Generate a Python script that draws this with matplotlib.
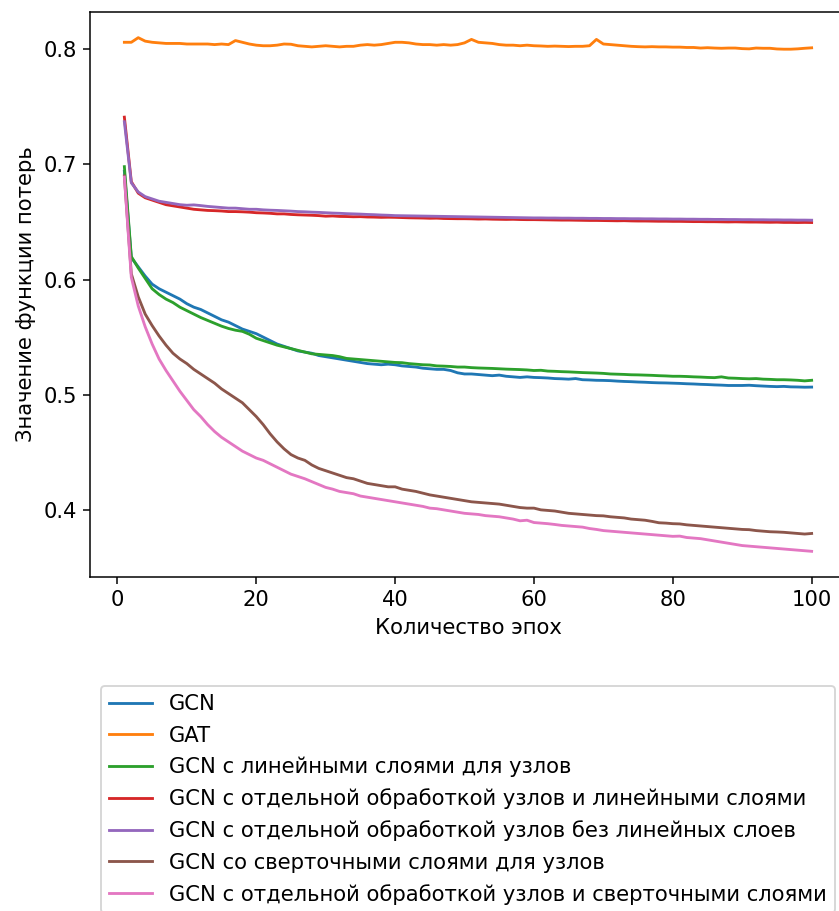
import matplotlib
matplotlib.use('Agg')
import matplotlib.pyplot as plt
import numpy as np

plt.rcParams['font.size'] = 11.2

epochs = list(range(1, 101))

gcn = [0.694, 0.619, 0.611, 0.603, 0.596, 0.592, 0.589, 0.586, 0.583, 0.579,
       0.576, 0.574, 0.571, 0.568, 0.565, 0.563, 0.560, 0.557, 0.555, 0.553,
       0.550, 0.547, 0.544, 0.542, 0.540, 0.538, 0.537, 0.536, 0.534, 0.533,
       0.532, 0.531, 0.530, 0.529, 0.528, 0.527, 0.5265, 0.526, 0.5265, 0.526,
       0.525, 0.5245, 0.524, 0.523, 0.5225, 0.522, 0.522, 0.521, 0.519, 0.518,
       0.518, 0.5175, 0.517, 0.5165, 0.517, 0.516, 0.5155, 0.515, 0.5155, 0.515,
       0.5148, 0.5145, 0.514, 0.5138, 0.5135, 0.514, 0.513, 0.5128, 0.5125, 0.5124,
       0.5122, 0.5118, 0.5115, 0.5113, 0.511, 0.5108, 0.5105, 0.5103, 0.5102, 0.510,
       0.5098, 0.5095, 0.5093, 0.509, 0.5088, 0.5085, 0.5083, 0.508, 0.508, 0.508,
       0.5082, 0.5078, 0.5075, 0.5072, 0.507, 0.5072, 0.5068, 0.5067, 0.5065, 0.5066]

gat = [0.806, 0.806, 0.810, 0.807, 0.806, 0.8055, 0.805, 0.805, 0.805, 0.8045,
       0.8045, 0.8045, 0.8045, 0.804, 0.8045, 0.804, 0.8075, 0.806, 0.8045, 0.8035,
       0.803, 0.803, 0.8035, 0.8045, 0.8043, 0.803, 0.8025, 0.802, 0.8025, 0.803,
       0.8025, 0.802, 0.8025, 0.8025, 0.8035, 0.804, 0.8035, 0.804, 0.805, 0.806,
       0.806, 0.8055, 0.8045, 0.804, 0.804, 0.8035, 0.804, 0.8035, 0.804, 0.8055,
       0.8085, 0.806, 0.8055, 0.805, 0.804, 0.8035, 0.8035, 0.803, 0.8035, 0.803,
       0.8028, 0.8025, 0.8027, 0.8025, 0.8023, 0.8025, 0.8025, 0.803, 0.8085, 0.8045,
       0.804, 0.8035, 0.803, 0.8025, 0.8022, 0.802, 0.8022, 0.802, 0.802, 0.8018,
       0.8018, 0.8015, 0.8015, 0.801, 0.8013, 0.801, 0.8008, 0.801, 0.801, 0.8005,
       0.8003, 0.801, 0.8008, 0.8008, 0.8002, 0.800, 0.800, 0.8003, 0.8008, 0.8012]

gcn_lin = [0.698, 0.620, 0.610, 0.601, 0.592, 0.587, 0.583, 0.580, 0.576, 0.573,
           0.570, 0.567, 0.5645, 0.562, 0.5595, 0.5575, 0.556, 0.555, 0.5525, 0.549,
           0.547, 0.545, 0.543, 0.5415, 0.540, 0.5385, 0.537, 0.5355, 0.535, 0.5345,
           0.534, 0.533, 0.5315, 0.531, 0.5305, 0.530, 0.5295, 0.529, 0.5285, 0.528,
           0.5278, 0.527, 0.5265, 0.526, 0.5258, 0.525, 0.5248, 0.5245, 0.524, 0.524,
           0.5235, 0.5232, 0.523, 0.5228, 0.5225, 0.5222, 0.522, 0.5218, 0.5215, 0.521,
           0.5212, 0.5205, 0.5203, 0.520, 0.5198, 0.5195, 0.5192, 0.519, 0.5188, 0.5185,
           0.518, 0.5178, 0.5176, 0.5173, 0.5172, 0.517, 0.5168, 0.5165, 0.5163, 0.516,
           0.516, 0.5158, 0.5155, 0.5153, 0.515, 0.5148, 0.5155, 0.5145, 0.5143, 0.514,
           0.5138, 0.514, 0.5135, 0.5133, 0.513, 0.513, 0.5128, 0.5125, 0.512, 0.5125]

gcn_sep_lin = [0.741, 0.685, 0.675, 0.671, 0.669, 0.667, 0.665, 0.664, 0.663, 0.662,
               0.661, 0.6605, 0.660, 0.6598, 0.6595, 0.659, 0.659, 0.6588, 0.6585, 0.658,
               0.6578, 0.6575, 0.657, 0.657, 0.6565, 0.6562, 0.656, 0.6558, 0.6555, 0.655,
               0.6552, 0.6548, 0.6547, 0.6545, 0.6546, 0.6543, 0.6542, 0.654, 0.6541, 0.654,
               0.6538, 0.6536, 0.6535, 0.6534, 0.6532, 0.6533, 0.653, 0.6529, 0.6528, 0.6528,
               0.6527, 0.6525, 0.6526, 0.6524, 0.6523, 0.6522, 0.6523, 0.6521, 0.652, 0.652,
               0.6519, 0.6518, 0.6517, 0.6516, 0.6516, 0.6515, 0.6514, 0.6513, 0.6513, 0.6512,
               0.6511, 0.651, 0.6511, 0.6509, 0.6508, 0.6508, 0.6507, 0.6506, 0.6506, 0.6505,
               0.6505, 0.6504, 0.6503, 0.6503, 0.6502, 0.6502, 0.6501, 0.65, 0.6501, 0.65,
               0.6499, 0.6499, 0.6498, 0.6497, 0.6498, 0.6496, 0.6496, 0.6495, 0.6496, 0.6495]

gcn_sep_nolin = [0.737, 0.684, 0.676, 0.672, 0.670, 0.668, 0.667, 0.666, 0.665, 0.6645,
                 0.6648, 0.6642, 0.6635, 0.663, 0.6625, 0.662, 0.662, 0.6615, 0.661, 0.661,
                 0.6605, 0.6602, 0.66, 0.6597, 0.6594, 0.659, 0.6588, 0.6585, 0.6583, 0.658,
                 0.6577, 0.6575, 0.6572, 0.657, 0.6568, 0.6565, 0.6563, 0.656, 0.6558, 0.6555,
                 0.6554, 0.6553, 0.6552, 0.6551, 0.655, 0.6549, 0.6548, 0.6547, 0.6546, 0.6545,
                 0.6544, 0.6543, 0.6542, 0.6541, 0.654, 0.6539, 0.6538, 0.6537, 0.6536, 0.6535,
                 0.6535, 0.6534, 0.6534, 0.6533, 0.6533, 0.6532, 0.6532, 0.6531, 0.6531, 0.653,
                 0.653, 0.6529, 0.6529, 0.6528, 0.6528, 0.6527, 0.6527, 0.6526, 0.6526, 0.6525,
                 0.6525, 0.6524, 0.6524, 0.6523, 0.6523, 0.6522, 0.6522, 0.6521, 0.6521, 0.652,
                 0.652, 0.6519, 0.6519, 0.6518, 0.6518, 0.6517, 0.6517, 0.6516, 0.6516, 0.6515]

gcn_conv = [0.690, 0.605, 0.585, 0.570, 0.560, 0.551, 0.543, 0.536, 0.531, 0.527,
            0.522, 0.518, 0.514, 0.510, 0.505, 0.501, 0.497, 0.493, 0.487, 0.481,
            0.474, 0.466, 0.459, 0.453, 0.448, 0.445, 0.443, 0.439, 0.436, 0.434,
            0.432, 0.430, 0.428, 0.427, 0.425, 0.423, 0.422, 0.421, 0.420, 0.420,
            0.418, 0.417, 0.416, 0.4145, 0.413, 0.412, 0.411, 0.410, 0.409, 0.408,
            0.407, 0.4065, 0.406, 0.4055, 0.405, 0.404, 0.403, 0.402, 0.4015, 0.4015,
            0.400, 0.3995, 0.399, 0.398, 0.397, 0.3965, 0.396, 0.3955, 0.395, 0.3948,
            0.394, 0.3935, 0.393, 0.392, 0.3915, 0.391, 0.390, 0.3888, 0.3885, 0.388,
            0.3878, 0.387, 0.3865, 0.386, 0.3855, 0.385, 0.3845, 0.384, 0.3835, 0.383,
            0.3828, 0.382, 0.3815, 0.381, 0.3808, 0.3805, 0.380, 0.3795, 0.379, 0.3795]

gcn_sep_conv = [0.689, 0.602, 0.577, 0.559, 0.544, 0.531, 0.521, 0.512, 0.503, 0.495,
                0.487, 0.481, 0.474, 0.468, 0.463, 0.459, 0.455, 0.451, 0.448, 0.445,
                0.443, 0.440, 0.437, 0.434, 0.431, 0.429, 0.427, 0.4245, 0.422, 0.4195,
                0.418, 0.416, 0.415, 0.414, 0.412, 0.411, 0.410, 0.409, 0.408, 0.407,
                0.406, 0.405, 0.404, 0.403, 0.4015, 0.401, 0.400, 0.399, 0.398, 0.397,
                0.3965, 0.396, 0.395, 0.3945, 0.394, 0.393, 0.392, 0.3905, 0.391, 0.389,
                0.3885, 0.388, 0.3873, 0.3865, 0.386, 0.3855, 0.385, 0.3838, 0.383, 0.382,
                0.3815, 0.381, 0.3805, 0.380, 0.3795, 0.379, 0.3785, 0.378, 0.3775, 0.377,
                0.3772, 0.376, 0.3755, 0.375, 0.374, 0.373, 0.372, 0.371, 0.370, 0.369,
                0.3685, 0.368, 0.3675, 0.367, 0.3665, 0.366, 0.3655, 0.365, 0.3645, 0.364]

labels = ['GCN', 'GAT', 'GCN с линейными слоями для узлов',
          'GCN с отдельной обработкой узлов и линейными слоями',
          'GCN с отдельной обработкой узлов без линейных слоев',
          'GCN со сверточными слоями для узлов',
          'GCN с отдельной обработкой узлов и сверточными слоями']
series = [gcn, gat, gcn_lin, gcn_sep_lin, gcn_sep_nolin, gcn_conv, gcn_sep_conv]

fig = plt.figure(figsize=(839 / 136, 911 / 136), dpi=136)
ax = fig.add_axes([90 / 839, 1 - 577 / 911, 756 / 839, 565 / 911])

for y, lab in zip(series, labels):
    ax.plot(epochs, y, label=lab)

ax.set_xlabel('Количество эпох')
ax.set_ylabel('Значение функции потерь')

# легенда под графиком, нижний край уходит за рамку картинки
fig.legend(loc='upper left', bbox_to_anchor=(101 / 839, 1 - 686 / 911),
           borderaxespad=0, labelspacing=0.53)

plt.savefig('out.png', dpi=136)
